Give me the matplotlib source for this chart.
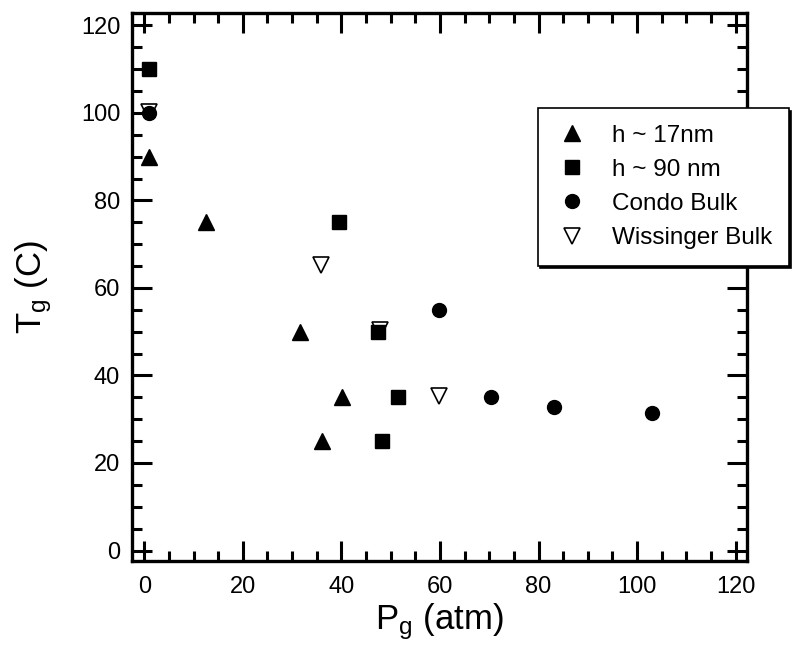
import matplotlib
matplotlib.use("Agg")
import matplotlib.pyplot as plt
from matplotlib.ticker import MultipleLocator

plt.rcParams['font.family'] = ['Liberation Sans', 'DejaVu Sans']
plt.rcParams['mathtext.fontset'] = 'custom'
plt.rcParams['mathtext.rm'] = 'Liberation Sans'
plt.rcParams['mathtext.it'] = 'Liberation Sans'

# Glass transition temperature vs. CO2 pressure
h17_p = [1, 12.5, 31.5, 40.2, 36.0]
h17_t = [90, 75, 50, 35, 25]

h90_p = [1, 39.5, 47.5, 51.4, 48.2]
h90_t = [110, 75, 50, 35, 25]

condo_p = [1, 59.8, 70.3, 83.1, 103.0]
condo_t = [100, 55, 35, 32.7, 31.4]

wiss_p = [1, 35.9, 47.9, 59.8]
wiss_t = [100.3, 65.2, 50.3, 35.2]

fig = plt.figure(figsize=(7.95, 6.56), dpi=100)
ax = fig.add_axes([0.166, 0.1448, 0.7736, 0.8352])

ax.plot(h17_p, h17_t, linestyle='none', marker='^', color='black', ms=11,
        label='h ~ 17nm', zorder=3)
ax.plot(wiss_p, wiss_t, linestyle='none', marker='v', mfc='white', mec='black',
        mew=1.2, ms=11, label='Wissinger Bulk', zorder=2)
ax.plot(h90_p, h90_t, linestyle='none', marker='s', color='black', ms=10.5,
        label='h ~ 90 nm', zorder=3)
ax.plot(condo_p, condo_t, linestyle='none', marker='o', color='black', ms=10,
        label='Condo Bulk', zorder=3)

ax.set_xlim(-2.5, 122.3)
ax.set_ylim(-2.4, 122.8)
ax.xaxis.set_major_locator(MultipleLocator(20))
ax.xaxis.set_minor_locator(MultipleLocator(5))
ax.yaxis.set_major_locator(MultipleLocator(20))
ax.yaxis.set_minor_locator(MultipleLocator(5))

ax.tick_params(which='both', direction='in', top=True, right=True,
               width=2.2, labelsize=17)
ax.tick_params(which='major', length=14.5)
ax.tick_params(which='minor', length=7.5)
ax.tick_params(axis='x', pad=11)
ax.tick_params(axis='y', pad=8.5)
for s in ax.spines.values():
    s.set_linewidth(2.4)

ax.set_xlabel(r'P$_\mathrm{g}$ (atm)', fontsize=25, labelpad=2)
ax.set_ylabel(r'T$_\mathrm{g}$ (C)', fontsize=25, labelpad=19)

handles, labels = ax.get_legend_handles_labels()
order = [0, 2, 3, 1]
leg = ax.legend([handles[i] for i in order], [labels[i] for i in order],
                loc='upper left', bbox_to_anchor=(537.7 / 795, 1 - 108 / 656),
                bbox_transform=fig.transFigure, fontsize=17.5,
                frameon=True, fancybox=False, edgecolor='black',
                shadow={'color': 'black', 'alpha': 1.0},
                borderpad=0.68, handlelength=1.5, handletextpad=0.87,
                labelspacing=0.5, borderaxespad=0, framealpha=1)
leg.get_frame().set_linewidth(1.2)

fig.savefig('out.png', dpi=100)
